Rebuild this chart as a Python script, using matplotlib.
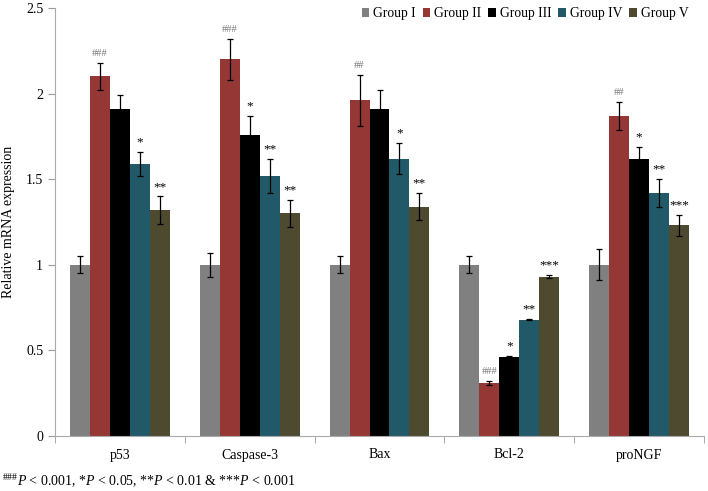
import numpy as np
import matplotlib
matplotlib.use('Agg')
from matplotlib import pyplot as plt

plt.rcParams['font.family'] = ['Liberation Serif', 'DejaVu Serif']
plt.rcParams['mathtext.fontset'] = 'custom'
plt.rcParams['mathtext.rm'] = 'Liberation Serif'
plt.rcParams['mathtext.it'] = 'Liberation Serif:italic'

genes = ['p53', 'Caspase-3', 'Bax', 'Bcl-2', 'proNGF']
groups = ['Group I', 'Group II', 'Group III', 'Group IV', 'Group V']
group_1 = [1.00, 1.00, 1.00, 1.00, 1.00]
group_2 = [2.10, 2.20, 1.96, 0.31, 1.87]
group_3 = [1.91, 1.76, 1.91, 0.46, 1.62]
group_4 = [1.59, 1.52, 1.62, 0.68, 1.42]
group_5 = [1.32, 1.30, 1.34, 0.93, 1.23]
err_1 = [0.05, 0.07, 0.05, 0.05, 0.09]
err_2 = [0.08, 0.12, 0.15, 0.01, 0.08]
err_3 = [0.08, 0.11, 0.11, 0.01, 0.07]
err_4 = [0.07, 0.10, 0.09, 0.005, 0.08]
err_5 = [0.08, 0.08, 0.08, 0.01, 0.06]
marks_2 = ['###', '###', '##', '###', '##']
marks_3 = ['', '*', '', '*', '*']
marks_4 = ['*', '**', '*', '**', '**']
marks_5 = ['**', '**', '**', '***', '***']

values = [group_1, group_2, group_3, group_4, group_5]
errors = [err_1, err_2, err_3, err_4, err_5]
marks = [None, marks_2, marks_3, marks_4, marks_5]
colors = ['#808080', '#953735', '#000000', '#215968', '#4E4A30']
mark_colors = [None, '#777777', 'black', 'black', 'black']

fig = plt.figure(figsize=(7.08, 4.91), dpi=100)
ax = fig.add_axes([55 / 708, 1 - 436 / 491, 649 / 708, 428 / 491])

x = np.arange(len(genes))
width = 0.154
for i in range(5):
    pos = x + (i - 2) * width
    ax.bar(pos, values[i], width, color=colors[i], label=groups[i])
    ax.errorbar(pos, values[i], yerr=errors[i], fmt='none', ecolor='black',
                elinewidth=0.9, capsize=2.5, capthick=0.9)
    if marks[i]:
        for p, v, e, m in zip(pos, values[i], errors[i], marks[i]):
            if m:
                star = m.startswith('*')
                ax.text(p, v + e + (0.02 if star else 0.03), m,
                        ha='center', va='bottom',
                        fontsize=9.5 if star else 7.5, color=mark_colors[i])

ax.set_xlim(-0.5, 4.5)
ax.set_ylim(0, 2.5)
ax.set_yticks([0, 0.5, 1, 1.5, 2, 2.5])
ax.set_yticklabels(['0', '0.5', '1', '1.5', '2', '2.5'])
ax.set_xticks(x)
ax.set_xticklabels(genes)
ax.set_xticks(np.arange(-0.5, 5, 1), minor=True)
ax.tick_params(axis='x', which='major', length=0, pad=9, labelsize=10)
ax.tick_params(axis='x', which='minor', length=5, color='#999999')
ax.tick_params(axis='y', length=5, color='#999999', labelsize=10)
for s in ['top', 'right']:
    ax.spines[s].set_visible(False)
for s in ['left', 'bottom']:
    ax.spines[s].set_color('#aaaaaa')
ax.set_ylabel('Relative mRNA expression', fontsize=10, labelpad=8)

ax.legend(loc='upper right', ncol=5, frameon=False, fontsize=9.8,
          handlelength=0.55, handleheight=0.55, handletextpad=0.3,
          columnspacing=0.5, bbox_to_anchor=(0.995, 1.03))

fig.text(2 / 708, 1 - 481 / 491,
         r'$^{\#\#\#}\mathit{P}$ < 0.001, *$\mathit{P}$ < 0.05, **$\mathit{P}$ < 0.01 & ***$\mathit{P}$ < 0.001',
         fontsize=10, va='center', ha='left')

fig.savefig('out.png', dpi=100)
